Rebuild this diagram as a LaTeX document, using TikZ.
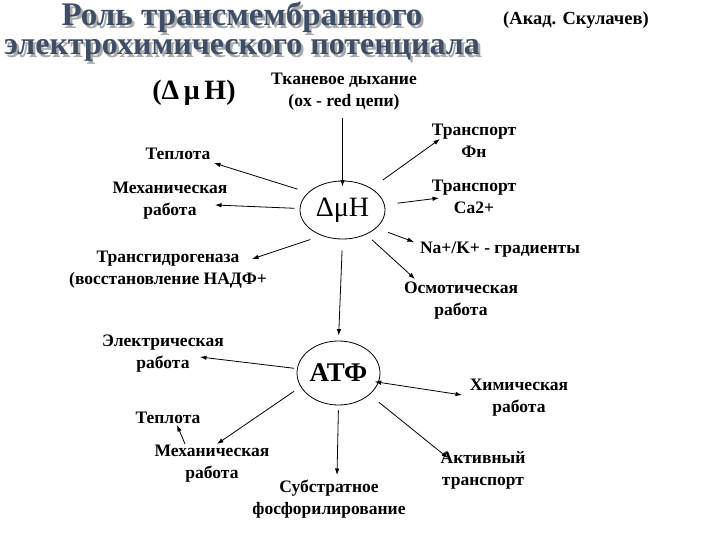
\documentclass[tikz,border=0pt]{standalone}
\usepackage{fontspec}
\setmainfont{Liberation Serif}
\usetikzlibrary{shapes.geometric,arrows.meta}
\definecolor{titleblue}{RGB}{62,78,102}
\definecolor{titleshadow}{RGB}{170,170,170}
\tikzset{
  lbl/.style={font=\fontsize{17.5}{22}\selectfont\bfseries, align=center, inner sep=0pt},
  ttl/.style={font=\fontsize{33}{33}\selectfont\bfseries, inner sep=0pt, anchor=base},
  ttlb/.style={font=\fontsize{32}{32}\selectfont\bfseries, inner sep=0pt, anchor=base},
  ell/.style={draw, ellipse, line width=0.8pt, inner sep=0pt},
  arr/.style={line width=0.8pt, -{Latex[length=6.5pt,width=4.5pt]}},
  darr/.style={line width=0.8pt, {Latex[length=6.5pt,width=4.5pt]}-{Latex[length=6.5pt,width=4.5pt]}}
}
\begin{document}
\begin{tikzpicture}[x=1pt,y=-1pt]
\path[use as bounding box, fill=white] (0,0) rectangle (720,540);
% title
\node[ttl, text=titleshadow] (t1s) at (244.5,28.5) {Роль трансмембранного};
\node[ttl, text=titleblue] (t1) at (242,26) {Роль трансмембранного};
\node[ttlb, text=titleshadow] (t2s) at (244.5,57.5) {электрохимического потенциала};
\node[ttlb, text=titleblue] (t2) at (242,55) {электрохимического потенциала};
\node[lbl, font=\fontsize{18.5}{22}\selectfont\bfseries] (akad) at (576,20) {(Акад. Скулачев)};
\node[inner sep=0pt, font=\fontsize{28}{28}\selectfont\bfseries] (dmhl) at (194,93) {(Δ\,μ\,H)};
% central nodes
\node[ell, minimum width=85pt, minimum height=58pt, font=\fontsize{28}{28}\selectfont] (dmh) at (342.5,210) {ΔμH};
\node[ell, minimum width=83pt, minimum height=64pt, font=\fontsize{27}{27}\selectfont\bfseries] (atf) at (338.5,373) {АТФ};
% labels
\node[lbl] (tkan) at (344,91.5) {Тканевое дыхание\\(ox - red цепи)};
\node[lbl] (tep1) at (178,154) {Теплота};
\node[lbl] (mech1) at (170,201) {Механическая\\работа};
\node[lbl] (trans) at (168,269.5) {Трансгидрогеназа\\(восстановление НАДФ+};
\node[lbl] (fn) at (474,140.5) {Транспорт\\Фн};
\node[lbl] (ca) at (474,196.5) {Транспорт\\Ca2+};
\node[lbl] (na) at (500,250) {Na+/K+ - градиенты};
\node[lbl] (osm) at (461,301) {Осмотическая\\работа};
\node[lbl] (el) at (163,353.5) {Электрическая\\работа};
\node[lbl] (tep2) at (168,418) {Теплота};
\node[lbl] (mech2) at (212,463.5) {Механическая\\работа};
\node[lbl] (sub) at (329,499) {Субстратное\\фосфорилирование};
\node[lbl] (him) at (519,398) {Химическая\\работа};
\node[lbl] (akt) at (483,470.5) {Активный\\транспорт};
% arrow end points
\coordinate (eTep1) at (214,163);
\coordinate (eMech1) at (215,205);
\coordinate (eTrans) at (252,259);
\coordinate (eFn) at (440,139);
\coordinate (eCa) at (439,198);
\coordinate (eNa) at (414,242);
\coordinate (eOsm) at (415,279);
\coordinate (eEl) at (200,357);
\coordinate (eMech2) at (217,444);
\coordinate (eSub) at (337,475);
\coordinate (eHim) at (462,395);
\coordinate (eAkt) at (448,458);
\coordinate (sHeat) at (185,444);
\coordinate (eHeat) at (177,425);
% connectors from dmh
\draw[arr] (tkan.south -| dmh.north) ++(0,8) coordinate (sTk) -- ([yshift=-6pt]dmh.north);
\draw[arr, shorten <=11pt] (dmh.153.7) -- (eTep1);
\draw[arr, shorten <=5pt] (dmh.178.8) -- (eMech1);
\draw[arr, shorten <=12pt] (dmh.231.8) -- (eTrans);
\draw[arr, shorten <=14pt] (dmh.37.2) -- (eFn);
\draw[arr, shorten <=13pt] (dmh.7.3) -- (eCa);
\draw[arr, shorten <=12.5pt] (dmh.-28.3) -- (eNa);
\draw[arr, shorten <=8pt] (dmh.-46.5) -- (eOsm);
\draw[arr, shorten <=11pt, shorten >=5pt] (dmh.south) -- (atf.north);
% connectors from atf
\draw[arr, shorten <=3pt] (atf.174.9) -- (eEl);
\draw[arr, shorten <=8pt] (atf.200.9) -- (eMech2);
\draw[arr, shorten <=5pt] (atf.-90) -- (eSub);
\draw[darr, shorten <=-4pt] (atf.-13) -- (eHim);
\draw[arr, shorten <=12pt] (atf.-35.6) -- (eAkt);
\draw[arr] (sHeat) -- (eHeat);
\end{tikzpicture}
\end{document}
